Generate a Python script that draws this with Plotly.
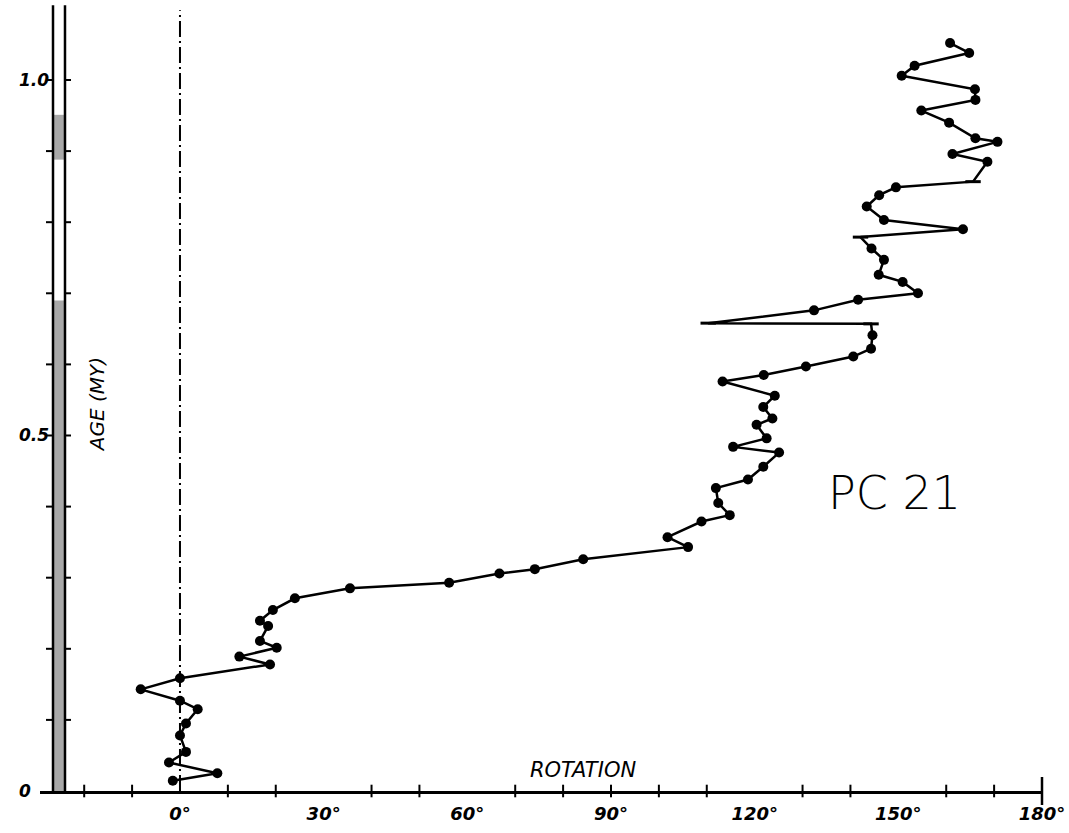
import plotly.graph_objects as go

# ---------------- data ----------------
rotation_deg = [-1.5, 7.8, -2.3, 1.25, 0.0, 1.25, 3.7, 0.0, -8.2, 0.0,
                18.8, 12.4, 20.2, 16.7, 18.4, 16.7, 19.4, 24.0, 35.5, 56.2,
                66.7, 74.1, 84.2, 106.1, 101.8, 108.9, 114.8, 112.4, 111.9, 118.6,
                121.8, 125.1, 115.5, 122.5, 120.4, 123.7, 121.8, 124.2, 113.3, 121.9,
                130.7, 140.6, 144.3, 144.6, 144.3, 110.3, 132.4, 141.6, 154.1, 150.9,
                145.9, 147.0, 144.4, 142.1, 163.5, 147.0, 143.4, 146.0, 149.5, 165.6,
                168.6, 161.3, 170.7, 166.1, 160.6, 154.8, 166.1, 166.0, 150.7, 153.4,
                164.8, 160.8]
age_my = [0.0145, 0.025, 0.040, 0.055, 0.078, 0.095, 0.115, 0.127, 0.143, 0.1585,
          0.178, 0.189, 0.2015, 0.211, 0.232, 0.2395, 0.2545, 0.271, 0.285, 0.293,
          0.306, 0.312, 0.326, 0.343, 0.357, 0.379, 0.388, 0.405, 0.426, 0.438,
          0.456, 0.476, 0.484, 0.496, 0.515, 0.524, 0.540, 0.556, 0.576, 0.585,
          0.597, 0.611, 0.622, 0.641, 0.657, 0.658, 0.676, 0.691, 0.700, 0.716,
          0.726, 0.747, 0.763, 0.779, 0.790, 0.803, 0.822, 0.838, 0.849, 0.857,
          0.885, 0.896, 0.913, 0.918, 0.940, 0.957, 0.972, 0.987, 1.006, 1.020,
          1.038, 1.052]
# samples plotted as short dashes instead of dots
dash_points = [44, 45, 53, 59]

x_tick_vals = [0, 30, 60, 90, 120, 150, 180]
x_tick_text = ["0°", "30°", "60°", "90°", "120°", "150°", "180°"]
x_minor_ticks = [-20, -10, 10, 20, 40, 50, 70, 80, 100, 110, 130, 140, 160, 170]
y_tick_vals = [0, 0.5, 1.0]
y_tick_text = ["0", "0.5", "1.0"]
y_minor_ticks = [0.1, 0.2, 0.3, 0.4, 0.5, 0.6, 0.7, 0.8, 0.9, 1.0]
# shaded (normal polarity) intervals of the column, MY
normal_intervals = [(0.0, 0.69), (0.888, 0.951)]
column_top = 1.105

X_MIN, X_MAX = -29.23, 180.0
Y_MIN, Y_MAX = 0.0, 1.1125
PX_PER_DEG = 4.79

def px_to_deg(dx):
    return X_MIN + dx / PX_PER_DEG

fig = go.Figure()

# polarity column
col_x0 = px_to_deg(13)
col_x1 = px_to_deg(25)
for a0, a1 in normal_intervals:
    fig.add_shape(type="rect", xref="x", yref="y", x0=col_x0, x1=col_x1, y0=a0, y1=a1,
                  line_width=0, fillcolor="rgba(110,110,110,0.6)", layer="below")
for cx in (col_x0, col_x1):
    fig.add_shape(type="line", xref="x", yref="y", x0=cx, x1=cx, y0=0, y1=column_top,
                  line=dict(color="black", width=2.5))
for t in y_minor_ticks:
    fig.add_shape(type="line", xref="x", yref="y", x0=px_to_deg(6), x1=col_x0, y0=t, y1=t,
                  line=dict(color="black", width=2))
    fig.add_shape(type="line", xref="x", yref="y", x0=col_x1, x1=px_to_deg(31), y0=t, y1=t,
                  line=dict(color="black", width=2))

# zero reference line
fig.add_shape(type="line", xref="x", yref="y", x0=0, x1=0, y0=0, y1=1.098,
              line=dict(color="black", width=2, dash="16px,4px,2px,4px"))

# minor ticks along the rotation axis
fig.add_trace(go.Scatter(x=x_minor_ticks + [90], y=[0] * (len(x_minor_ticks) + 1),
                         mode="markers", cliponaxis=False, hoverinfo="skip",
                         marker=dict(symbol="line-ns", size=9, opacity=1,
                                     line=dict(color="black", width=2))))
fig.add_trace(go.Scatter(x=[180], y=[0], mode="markers", cliponaxis=False, hoverinfo="skip",
                         marker=dict(symbol="line-ns", size=20, opacity=1,
                                     line=dict(color="black", width=2.5))))

# data curve
sizes = [2 if i in dash_points else 10 for i in range(len(rotation_deg))]
fig.add_trace(go.Scatter(x=rotation_deg, y=age_my, mode="lines+markers", cliponaxis=False,
                         line=dict(color="black", width=2.5),
                         marker=dict(color="black", size=sizes, opacity=1,
                                     line=dict(width=0))))
fig.add_trace(go.Scatter(x=[rotation_deg[i] for i in dash_points],
                         y=[age_my[i] for i in dash_points],
                         mode="markers", cliponaxis=False,
                         marker=dict(symbol="line-ew", size=11, opacity=1,
                                     line=dict(color="black", width=3))))

# y tick labels
for v, s in zip(y_tick_vals, y_tick_text):
    fig.add_annotation(x=-0.023, xref="paper", y=v, yref="y", text=s, showarrow=False,
                       xanchor="left", yanchor="middle",
                       font=dict(family="DejaVu Sans", size=17, color="black",
                                 style="italic", weight="bold"))

fig.add_annotation(x=px_to_deg(57), y=0.544, text="AGE (MY)", textangle=-90, showarrow=False,
                   font=dict(family="DejaVu Sans", size=20, color="black", style="italic"))
fig.add_annotation(x=84.1, y=0.0295, text="ROTATION", showarrow=False,
                   font=dict(family="DejaVu Sans", size=21, color="black", style="italic"))
fig.add_annotation(x=149.3, y=0.419, text="PC 21", showarrow=False,
                   font=dict(family="DejaVu Sans", size=46, color="black", weight=300))

fig.update_layout(
    width=1069, height=833,
    margin=dict(l=40, r=27, t=0, b=42),
    paper_bgcolor="white", plot_bgcolor="white",
    showlegend=False,
    xaxis=dict(range=[X_MIN, X_MAX], showgrid=False, zeroline=False,
               showline=True, linecolor="black", linewidth=3,
               tickvals=x_tick_vals, ticktext=x_tick_text, ticks="",
               ticklabelstandoff=4,
               tickfont=dict(family="DejaVu Sans", size=18, color="black",
                             style="italic", weight="bold")),
    yaxis=dict(range=[Y_MIN, Y_MAX], showgrid=False, zeroline=False, showline=False,
               showticklabels=False, ticks=""),
)

fig.write_html("out.html", config={"displayModeBar": False},
               post_script="document.body.style.margin='0';")
